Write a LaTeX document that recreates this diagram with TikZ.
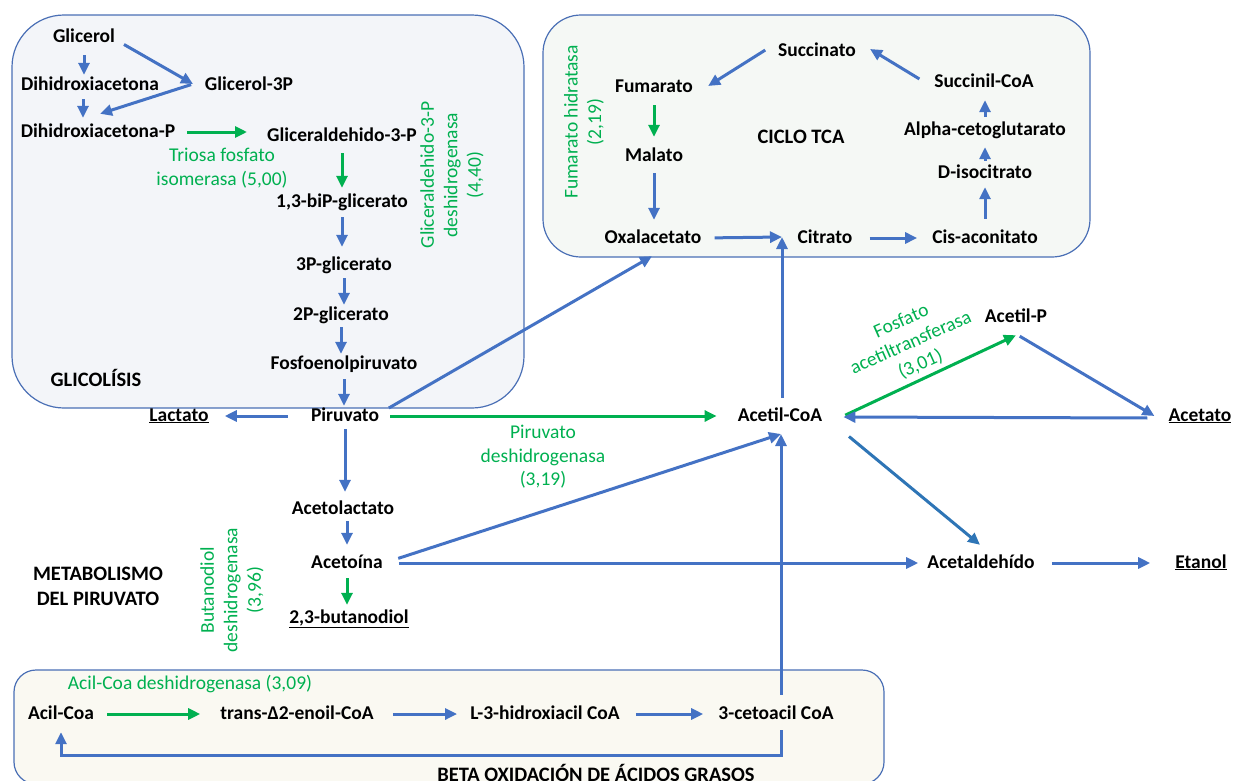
\documentclass[tikz,border=0pt]{standalone}
\usepackage{fontspec}
\setmainfont{Carlito}
\usetikzlibrary{arrows.meta,calc}
\definecolor{MetBlue}{HTML}{4472C4}
\definecolor{MetDeep}{HTML}{2E75B6}
\definecolor{MetGreen}{HTML}{00B050}
\definecolor{MetFrame}{HTML}{4A6FB5}
\definecolor{GlyPanel}{HTML}{F3F5F9}
\definecolor{TcaPanel}{HTML}{F5F8F5}
\definecolor{BetaPanel}{HTML}{FAF9F2}
\tikzset{
  met/.style={font=\bfseries\fontsize{19.5}{22}\selectfont,text height=14pt,text depth=4pt,inner sep=1pt},
  enz/.style={text=MetGreen,font=\fontsize{19.5}{23.5}\selectfont,align=center,inner sep=0pt},
  zone/.style={font=\bfseries\fontsize{20.5}{25}\selectfont,align=center,inner sep=0pt},
  panel/.style={draw=MetFrame,line width=1.2pt},
  flow/.style={MetBlue,line width=3pt,-{Triangle[length=12pt,width=11pt]},shorten <=2pt},
  cat/.style={flow,MetGreen},
}
\begin{document}
\begin{tikzpicture}[x=1pt,y=-1pt]
        \useasboundingbox (0,0) rectangle (1235,780);

        \filldraw[panel,fill=GlyPanel,rounded corners=52pt] (12,15) rectangle (524,408);
        \filldraw[panel,fill=TcaPanel,rounded corners=38pt] (543,15) rectangle (1090,257);
        \filldraw[panel,fill=BetaPanel,rounded corners=22pt] (14,670) rectangle (884,784);

        \node[zone] (glyname) at (96,378) {GLICOLÍSIS};
        \node[zone] (tcaname) at (801,137) {CICLO TCA};
        \node[zone] (metname) at (98,586) {METABOLISMO\\DEL PIRUVATO};
        \node[zone] (betaname) at (596,773) {BETA OXIDACIÓN DE ÁCIDOS GRASOS};

        \node[met] (glicerol) at (84,37) {Glicerol};
        \node[met] (dha) at (90,85) {Dihidroxiacetona};
        \node[met] (g3p) at (249,85) {Glicerol-3P};
        \node[met] (dhap) at (98,132) {Dihidroxiacetona-P};
        \node[met] (gap) at (342,136) {Gliceraldehido-3-P};
        \node[met] (bpg) at (342,202) {1,3-biP-glicerato};
        \node[met] (pg3) at (344,265) {3P-glicerato};
        \node[met] (pg2) at (341,315) {2P-glicerato};
        \node[met] (pep) at (344,364) {Fosfoenolpiruvato};
        \node[met] (piruvato) at (345,416) {Piruvato};
        \node[met] (lactato) at (179,416) {\underline{Lactato}};
        \node[met] (acetolactato) at (343,509) {Acetolactato};
        \node[met] (acetoina) at (347,563) {Acetoína};
        \node[met] (butanodiol) at (349,618) {\underline{2,3-butanodiol}};

        \node[met] (succinato) at (817,51) {Succinato};
        \node[met] (fumarato) at (654,87) {Fumarato};
        \node[met] (malato) at (654,156) {Malato};
        \node[met] (oxal) at (653,238) {Oxalacetato};
        \node[met] (citrato) at (825,238) {Citrato};
        \node[met] (cis) at (985,238) {Cis-aconitato};
        \node[met] (diso) at (985,173) {D-isocitrato};
        \node[met] (alpha) at (985,130) {Alpha-cetoglutarato};
        \node[met] (succinil) at (984,82) {Succinil-CoA};

        \node[met] (acetilcoa) at (780,416) {Acetil-CoA};
        \node[met] (acetilp) at (1016,317) {Acetil-P};
        \node[met] (acetato) at (1200,416) {\underline{Acetato}};
        \node[met] (acetaldehido) at (981,563) {Acetaldehído};
        \node[met] (etanol) at (1201,563) {\underline{Etanol}};

        \node[met] (acilcoa) at (61,714) {Acil-Coa};
        \node[met] (trans) at (297,714) {trans-Δ2-enoil-CoA};
        \node[met] (hidroxi) at (545,714) {L-3-hidroxiacil CoA};
        \node[met] (cetoacil) at (776,714) {3-cetoacil CoA};

        \node[enz] (tpi) at (222,168) {Triosa fosfato\\isomerasa (5,00)};
        \node[enz,rotate=90] (gapdh) at (452,175) {Gliceraldehido-3-P\\deshidrogenasa\\(4,40)};
        \node[enz,rotate=90] (fumhyd) at (584,122) {Fumarato hidratasa\\(2,19)};
        \node[enz] (pdh) at (543,457) {Piruvato\\deshidrogenasa\\(3,19)};
        \node[enz,rotate=90] (bdh) at (232,590) {Butanodiol\\deshidrogenasa\\(3,96)};
        \node[enz,rotate=24] (pta) at (911,343) {Fosfato\\acetiltransferasa\\(3,01)};
        \node[enz] (acd) at (190,684) {Acil-Coa deshidrogenasa (3,09)};

        \coordinate (g3pin) at (193,84);
        \coordinate (citjoin) at (782,237);
        \coordinate (acjoin) at (781,434);

        \draw[flow,shorten <=8pt] (glicerol.south) -- (glicerol.south |- dha.north);
        \draw[flow,shorten <=4pt,shorten >=4pt] ([xshift=-7pt]dha.south) -- ([xshift=-7pt]dha.south |- dhap.north);
        \draw[flow,shorten <=9pt] ([yshift=-3pt]glicerol.east) -- (g3pin);
        \draw[flow] (g3pin) -- ($(dhap.north)+(2,-8)$);
        \draw[cat,shorten <=11pt,shorten >=19pt] (dhap.east) -- (dhap.east -| gap.west);
        \draw[cat,shorten <=7pt,shorten >=4pt] (gap.south) -- (gap.south |- bpg.north);
        \draw[flow,shorten <=5pt,shorten >=8pt] (bpg.south) -- (bpg.south |- pg3.north);
        \draw[flow,shorten <=3pt] (pg3.south) -- (pg3.south |- pg2.north);
        \draw[flow] (pg2.south) -- (pg2.south |- pep.north);
        \draw[flow,shorten <=5pt] (pep.south) -- (pep.south |- piruvato.north);

        \draw[flow,shorten <=22pt,shorten >=15pt] (piruvato.west) -- (lactato.east);
        \draw[flow,shorten <=3pt,shorten >=7pt] (piruvato.south) -- (piruvato.south |- acetolactato.north);
        \draw[flow,shorten >=8pt] (acetoina.north |- acetolactato.south) -- (acetoina.north);
        \draw[cat,shorten <=5pt,shorten >=3pt] (acetoina.south) -- (acetoina.south |- butanodiol.north);
        \draw[flow,shorten <=10pt] ([yshift=3pt]piruvato.east) -- ($(oxal.south)+(-1,8)$);
        \draw[cat,shorten <=10pt,shorten >=20pt] (piruvato.east) -- (acetilcoa.west);
        \draw[flow,shorten <=15pt] (acetoina.east) -- (acjoin);
        \draw[flow,shorten <=15pt,shorten >=8pt] (acetoina.east) -- (acetaldehido.west);

        \draw[flow,shorten <=9pt] (acjoin |- cetoacil.north) -- (acjoin);
        \draw[flow,shorten <=8pt] (citjoin |- acetilcoa.north) -- (citjoin);
        \draw[flow,shorten <=12pt] (oxal.east) -- (citjoin);
        \draw[flow,shorten <=16pt,shorten >=14pt] (citrato.east) -- (cis.west);
        \draw[flow,shorten <=9pt,shorten >=4pt] (cis.north) -- (cis.north |- diso.south);
        \draw[flow,shorten >=7pt] (diso.north) -- (diso.north |- alpha.south);
        \draw[flow,shorten <=3pt,shorten >=8pt] (alpha.north) -- (alpha.north |- succinil.south);
        \draw[flow] ($(succinil.west)+(-12,-2)$) -- ($(succinato.east)+(13,-2)$);
        \draw[flow] ($(succinato.west)+(-10,-2)$) -- ($(fumarato.east)+(14,-1)$);
        \draw[cat,shorten <=8pt,shorten >=9pt] (fumarato.south) -- (fumarato.south |- malato.north);
        \draw[flow,shorten <=7pt,shorten >=8pt] (malato.south) -- (malato.south |- oxal.north);

        \draw[cat] ($(acetilcoa.east)+(20,0)$) -- ($(acetilp.south)+(0,8)$);
        \draw[flow] ($(acetilp.south)+(2,8)$) -- ($(acetato.west)+(-13,0)$);
        \draw[flow] ($(acetato.west)+(-18,2)$) -- ($(acetilcoa.east)+(20,1)$);
        \draw[flow,MetDeep] ($(acetilcoa.south east)+(24,9)$) -- ($(acetaldehido.north)+(-1,-8)$);
        \draw[flow,shorten <=16pt,shorten >=24pt] (acetaldehido.east) -- (etanol.west);

        \draw[cat,shorten <=12pt,shorten >=19pt] (acilcoa.east) -- (trans.west);
        \draw[flow,shorten <=18pt,shorten >=12pt] (trans.east) -- (hidroxi.west);
        \draw[flow,shorten <=15pt,shorten >=14pt] (hidroxi.east) -- (cetoacil.west);
        \draw[flow,shorten <=6pt,shorten >=8pt] (acjoin |- cetoacil.south) -- ++(0,31) -| (acilcoa.south);
      \end{tikzpicture}
\end{document}
